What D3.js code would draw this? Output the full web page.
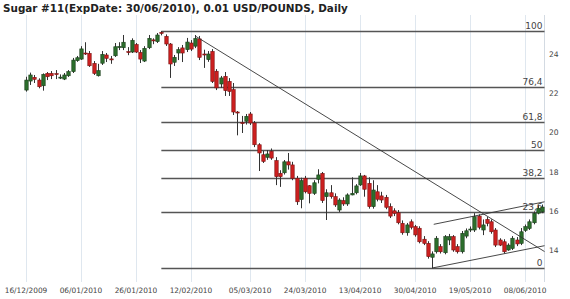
<!DOCTYPE html>
<html><head><meta charset="utf-8">
<script src="https://cdn.jsdelivr.net/npm/d3@7"></script>
<style>
html,body{margin:0;padding:0;background:#fff;}
svg{display:block;font-family:"DejaVu Sans",Verdana,sans-serif;}
</style></head>
<body>
<svg id="c" width="570" height="299"></svg>
<script>
const title = "Sugar #11(ExpDate: 30/06/2010), 0.01 USD/POUNDS, Daily";
const tickIndex = [0, 13, 26, 39, 53, 66, 79, 92, 105, 118];
const tickLabels = ["16/12/2009","06/01/2010","26/01/2010","12/02/2010","05/03/2010","24/03/2010","13/04/2010","30/04/2010","19/05/2010","08/06/2010"];
const priceTicks = [14, 16, 18, 20, 22, 24];
const fibLevels = [0, 23.6, 38.2, 50, 61.8, 76.4, 100];
const fibLabels = ["0", "23,6", "38,2", "50", "61,8", "76,4", "100"];

const open = [22.16,22.62,22.81,22.67,22.38,23.01,23.01,23.0,22.8,22.72,22.89,23.1,23.66,23.74,24.05,24.03,23.52,22.89,23.53,23.95,
23.75,23.91,24.37,24.32,24.12,24.1,24.48,24.08,23.64,24.32,24.72,24.63,25.1,24.9,24.51,23.58,24.05,24.31,24.22,24.56,
24.4,24.77,24.0,23.71,24.13,23.12,22.47,22.86,22.6,22.18,21.04,20.5,20.57,20.94,20.48,19.37,18.86,18.73,19.04,18.56,
17.91,17.94,18.5,18.34,17.66,16.58,17.66,17.28,16.89,17.61,17.91,16.72,16.92,16.72,16.04,16.52,16.35,16.81,16.92,17.32,
17.78,17.4,16.21,16.97,16.76,16.69,16.21,16.0,15.9,15.36,14.88,15.44,15.19,15.11,14.55,14.34,13.63,13.91,14.17,13.86,
14.51,14.68,14.17,13.91,14.71,15.02,15.02,15.73,15.02,15.56,15.44,15.02,14.51,14.42,14.0,14.08,14.51,14.34,15.0,15.1,
15.39,15.88,15.95];
const high = [22.84,23.05,22.93,22.76,23.01,23.08,23.13,23.18,22.96,23.03,23.18,23.8,23.9,24.4,24.6,24.15,23.64,23.5,24.15,24.05,
23.9,24.56,24.6,24.97,24.35,24.8,24.56,24.2,24.4,24.97,24.8,25.07,25.17,25.0,24.56,23.95,24.35,24.46,24.82,24.71,
24.97,24.92,24.22,24.15,24.25,23.23,22.88,23.08,22.77,22.52,21.09,20.84,20.94,21.04,20.58,19.45,19.05,19.1,19.18,18.74,
18.07,18.59,18.95,18.5,17.78,17.69,17.78,17.31,17.56,18.12,17.98,17.1,17.31,16.89,16.64,16.69,16.89,17.71,17.36,17.93,
17.83,17.71,17.56,17.31,16.97,16.81,16.38,16.13,16.04,15.51,15.38,15.56,15.28,15.21,14.71,14.45,13.93,14.71,14.3,14.76,
14.82,14.76,14.3,14.97,15.1,15.2,15.88,15.82,15.56,15.68,15.56,15.12,14.6,14.55,14.34,14.71,14.66,15.12,15.3,15.56,
15.97,16.28,16.32];
const low = [22.08,22.42,22.52,22.25,22.13,22.67,22.72,22.72,22.72,22.67,22.83,23.03,23.6,23.7,23.95,23.34,22.93,22.85,23.44,23.59,
23.5,23.85,24.2,24.2,23.94,24.05,24.05,23.54,23.59,24.25,24.5,24.56,24.95,24.41,22.78,23.39,23.69,23.59,24.1,24.15,
24.3,23.69,23.29,23.6,22.52,22.16,22.27,21.86,21.86,20.89,19.85,19.97,20.4,20.38,19.25,18.03,18.44,18.6,18.6,17.31,
17.22,17.85,18.1,17.56,16.3,16.13,16.89,16.38,16.81,17.4,16.4,15.53,16.62,16.2,15.94,16.25,16.25,16.79,16.84,17.27,
16.72,16.11,16.11,16.48,16.4,16.08,15.63,15.73,15.31,14.78,14.73,15.05,14.68,14.34,14.25,13.56,13.08,13.82,13.82,13.78,
14.25,13.91,13.82,13.82,14.6,14.92,14.92,15.05,14.76,15.21,14.83,14.15,14.2,13.82,13.96,14.0,14.2,14.25,14.92,15.02,
15.31,15.82,15.88];
const close = [22.67,22.93,22.71,22.33,22.96,22.84,22.89,22.95,22.82,22.93,23.1,23.69,23.81,24.26,24.0,23.4,23.01,23.15,23.98,23.78,
23.73,24.37,24.38,24.6,24.1,24.7,24.1,23.74,24.29,24.8,24.7,24.97,25.05,24.51,23.49,23.83,24.22,24.05,24.61,24.25,
24.79,23.83,23.98,24.0,22.6,22.27,22.78,22.13,22.09,21.04,21.02,20.48,20.82,20.48,19.37,18.95,18.52,18.9,18.69,17.74,
17.74,18.5,18.34,17.66,16.46,17.54,16.97,16.89,17.43,17.83,16.52,16.92,16.72,16.3,16.55,16.35,16.81,16.89,17.27,17.78,
17.1,16.21,17.06,16.59,16.55,16.18,15.73,15.87,15.39,14.88,15.28,15.16,14.77,14.42,14.34,13.66,13.8,14.6,13.91,14.68,
14.68,14.0,13.91,14.85,14.98,15.07,15.7,15.16,15.28,15.36,14.93,14.25,14.25,13.91,14.25,14.6,14.31,14.93,15.19,15.44,
15.87,16.13,16.19];
// trend lines: [startIndex, startPrice, endIndex, endPrice]
const trendLines = [[40, 24.92, 122.6, 13.92], [96, 13.08, 122.6, 14.22], [96.4, 15.31, 122.6, 16.46]];

const svg = d3.select("#c");
const plotRight = 544.5, plotTop = 15, plotBottom = 282;
const x = d3.scaleLinear().domain([0, 122]).range([26, 542]);
const y = d3.scaleLinear().domain([14, 24]).range([250, 54]);

// vertical gridlines
svg.append("g").selectAll("line").data(tickIndex).join("line")
  .attr("x1", d => Math.round(x(d)) + 0.5).attr("x2", d => Math.round(x(d)) + 0.5)
  .attr("y1", plotTop).attr("y2", plotBottom)
  .attr("stroke", "#dfe7ef").attr("stroke-width", 1);
svg.append("line").attr("x1", plotRight).attr("x2", plotRight).attr("y1", plotTop).attr("y2", plotBottom)
  .attr("stroke", "#d3dae2");

// x labels
svg.append("g").selectAll("text").data(tickIndex).join("text")
  .attr("x", d => x(d)).attr("y", 293)
  .attr("text-anchor", "middle").attr("font-size", "7.4px").attr("fill", "#444")
  .text((d, i) => tickLabels[i]);

// right axis labels
svg.append("g").selectAll("text").data(priceTicks).join("text")
  .attr("x", 549).attr("y", d => y(d) + 3)
  .attr("font-size", "7.6px").attr("fill", "#444")
  .text(d => d);

// fibonacci
const hi = d3.max(high), lo = d3.min(low);
const hiIdx = high.indexOf(hi);
const fibG = svg.append("g");
fibLevels.forEach((lv, i) => {
  const py = Math.round(y(lo + (hi - lo) * lv / 100)) + 0.5;
  fibG.append("line").attr("x1", x(hiIdx)).attr("x2", plotRight).attr("y1", py).attr("y2", py)
    .attr("stroke", "#555").attr("stroke-width", 1.4);
  fibG.append("text").attr("x", plotRight - 2).attr("y", py - 3)
    .attr("text-anchor", "end").attr("font-size", "9px").attr("fill", "#444")
    .text(fibLabels[i]);
});

// candles
const idx = d3.range(open.length);
const cg = svg.append("g");
cg.selectAll("line").data(idx).join("line")
  .attr("x1", i => Math.round(x(i)) + 0.5).attr("x2", i => Math.round(x(i)) + 0.5)
  .attr("y1", i => y(high[i])).attr("y2", i => y(low[i]))
  .attr("stroke", "#333").attr("stroke-width", 1);
cg.selectAll("rect").data(idx).join("rect")
  .attr("x", i => Math.round(x(i)) - 1.2)
  .attr("width", 3.4)
  .attr("y", i => y(Math.max(open[i], close[i])))
  .attr("height", i => Math.max(1, Math.abs(y(open[i]) - y(close[i]))))
  .attr("fill", i => close[i] >= open[i] ? "#2c6e2c" : "#cc2020")
  .attr("stroke", i => close[i] >= open[i] ? "#1a3d1a" : "#7a1010")
  .attr("stroke-width", 0.6);

// trend lines
svg.append("g").selectAll("line").data(trendLines).join("line")
  .attr("x1", d => x(d[0])).attr("y1", d => y(d[1]))
  .attr("x2", d => x(d[2])).attr("y2", d => y(d[3]))
  .attr("stroke", "#333").attr("stroke-width", 0.9);

// title
svg.append("text").attr("x", 3).attr("y", 12)
  .attr("font-size", "10.4px").attr("font-weight", "bold").attr("fill", "#222")
  .text(title);
</script>
</body></html>
